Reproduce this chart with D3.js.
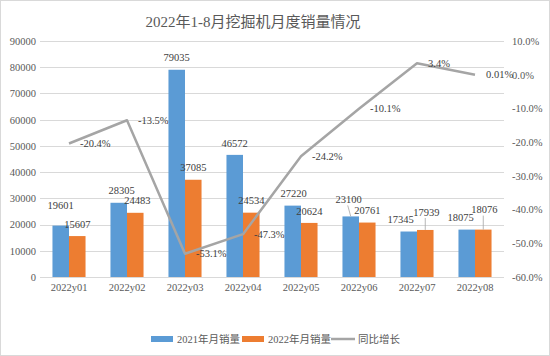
<!DOCTYPE html>
<html><head><meta charset="utf-8">
<script src="https://cdn.jsdelivr.net/npm/d3@7/dist/d3.min.js"></script>
<style>body{margin:0;background:#fff}svg{display:block}</style>
</head><body><svg id="c" width="550" height="356"></svg>
<script>
const title = "2022年1-8月挖掘机月度销量情况";
const categories = ["2022y01","2022y02","2022y03","2022y04","2022y05","2022y06","2022y07","2022y08"];
const sales2021 = [19601, 28305, 79035, 46572, 27220, 23100, 17345, 18075];
const sales2022 = [15607, 24483, 37085, 24534, 20624, 20761, 17939, 18076];
const yoy = [-20.4, -13.5, -53.1, -47.3, -24.2, -10.1, 3.4, 0.01];
const yoyLabels = ["-20.4%","-13.5%","-53.1%","-47.3%","-24.2%","-10.1%","3.4%","0.01%"];
const leftTicks = [0,10000,20000,30000,40000,50000,60000,70000,80000,90000];
const rightTicks = [10,0,-10,-20,-30,-40,-50,-60];
const seriesNames = ["2021年月销量","2022年月销量","同比增长"];
// label nudges (dx, dy, leader line flag) to mimic the reference's label placement
const shift2021 = [[0,-8,0],[3,0,0],[0,0,0],[0,0,0],[1,0,0],[-2,-5,1],[-8,0,0],[-6,0,0]];
const shift2022 = [[0,0,0],[2,0,0],[0,0,0],[0,0,0],[0,0,0],[0,0,0],[1,-6,1],[1,-8,1]];

const svg = d3.select("#c");
const font = "'Liberation Serif','Noto Sans CJK SC',serif";
const txt = "#595959", lab = "#404040";
const colors = ["#5B9BD5","#ED7D31","#A5A5A5"];

svg.append("rect").attr("x",0.5).attr("y",0.5).attr("width",549).attr("height",355)
  .attr("fill","#fff").attr("stroke","#D9D9D9");

svg.append("text").attr("x",253).attr("y",27).attr("text-anchor","middle")
  .attr("font-family",font).attr("font-size",15).attr("fill",txt).text(title);

const L = 40, R = 504, T = 41, B = 277;
const x = d3.scaleBand().domain(categories).range([L,R]).paddingInner(0.43).paddingOuter(0.215);
const xs = d3.scaleBand().domain([0,1]).range([0,x.bandwidth()]);
const y = d3.scaleLinear().domain([0,90000]).range([B,T]);
const y2 = d3.scaleLinear().domain([-60,10]).range([B,T]);

// grid
svg.append("g").selectAll("line").data(leftTicks).join("line")
  .attr("x1",L).attr("x2",R).attr("y1",d=>Math.round(y(d))+0.5).attr("y2",d=>Math.round(y(d))+0.5)
  .attr("stroke","#D9D9D9").attr("stroke-width",1);

// left axis
const la = svg.append("g").attr("transform",`translate(${L-4},0)`)
  .call(d3.axisLeft(y).tickValues(leftTicks).tickSize(0).tickPadding(0).tickFormat(d=>String(d)));
la.select(".domain").remove();
la.selectAll("text").attr("font-family",font).attr("font-size",10.5).attr("fill",txt);

// right axis
const ra = svg.append("g").attr("transform",`translate(${R+8},0)`)
  .call(d3.axisRight(y2).tickValues(rightTicks).tickSize(0).tickPadding(0).tickFormat(d=>d.toFixed(1)+"%"));
ra.select(".domain").remove();
ra.selectAll("text").attr("font-family",font).attr("font-size",10.5).attr("fill",txt);

// x axis labels
const xa = svg.append("g").attr("transform",`translate(0,${B+7})`)
  .call(d3.axisBottom(x).tickSize(0).tickPadding(0));
xa.select(".domain").remove();
xa.selectAll("text").attr("font-family",font).attr("font-size",10.5).attr("fill",txt).attr("dy","0.71em");

// bars
const series = [sales2021, sales2022];
const shifts = [shift2021, shift2022];
series.forEach((vals,si)=>{
  const g = svg.append("g");
  g.selectAll("rect").data(vals).join("rect")
    .attr("x",(d,i)=>x(categories[i])+xs(si)).attr("width",xs.bandwidth())
    .attr("y",d=>y(d)).attr("height",d=>B-y(d)).attr("fill",colors[si]);
  g.selectAll("line").data(vals.map((d,i)=>({d,i})).filter(o=>shifts[si][o.i][2])).join("line")
    .attr("x1",o=>x(categories[o.i])+xs(si)+xs.bandwidth()/2+shifts[si][o.i][0]-1)
    .attr("x2",o=>x(categories[o.i])+xs(si)+xs.bandwidth()/2)
    .attr("y1",o=>y(o.d)-12+shifts[si][o.i][1]+6)
    .attr("y2",o=>y(o.d))
    .attr("stroke","#A5A5A5").attr("stroke-width",0.8);
  g.selectAll("text").data(vals).join("text")
    .attr("x",(d,i)=>x(categories[i])+xs(si)+xs.bandwidth()/2+shifts[si][i][0])
    .attr("y",(d,i)=>y(d)-12+shifts[si][i][1])
    .attr("dy","0.35em").attr("text-anchor","middle")
    .attr("font-family",font).attr("font-size",10.5).attr("fill",lab).text(d=>d);
});

// line
const lx = (d,i)=>x(categories[i])+x.bandwidth()/2;
svg.append("path").datum(yoy)
  .attr("d",d3.line().x(lx).y(d=>y2(d)))
  .attr("fill","none").attr("stroke",colors[2]).attr("stroke-width",2.5).attr("stroke-linejoin","round");
svg.append("g").selectAll("text").data(yoy).join("text")
  .attr("x",(d,i)=>lx(d,i)+11).attr("y",d=>y2(d)).attr("dy","0.35em")
  .attr("font-family",font).attr("font-size",10.5).attr("fill",lab).text((d,i)=>yoyLabels[i]);

// legend
const leg = svg.append("g").attr("transform","translate(0,339)");
const legX = [151, 242, 331];
seriesNames.forEach((n,i)=>{
  if(i<2) leg.append("rect").attr("x",legX[i]).attr("y",-3).attr("width",22).attr("height",6).attr("fill",colors[i]);
  else leg.append("line").attr("x1",legX[i]).attr("x2",legX[i]+24).attr("y1",0).attr("y2",0).attr("stroke",colors[i]).attr("stroke-width",2.5);
  leg.append("text").attr("x",legX[i]+(i<2?26:27)).attr("y",0).attr("dy","0.35em")
    .attr("font-family",font).attr("font-size",10.5).attr("fill",txt).text(n);
});
</script></body></html>
